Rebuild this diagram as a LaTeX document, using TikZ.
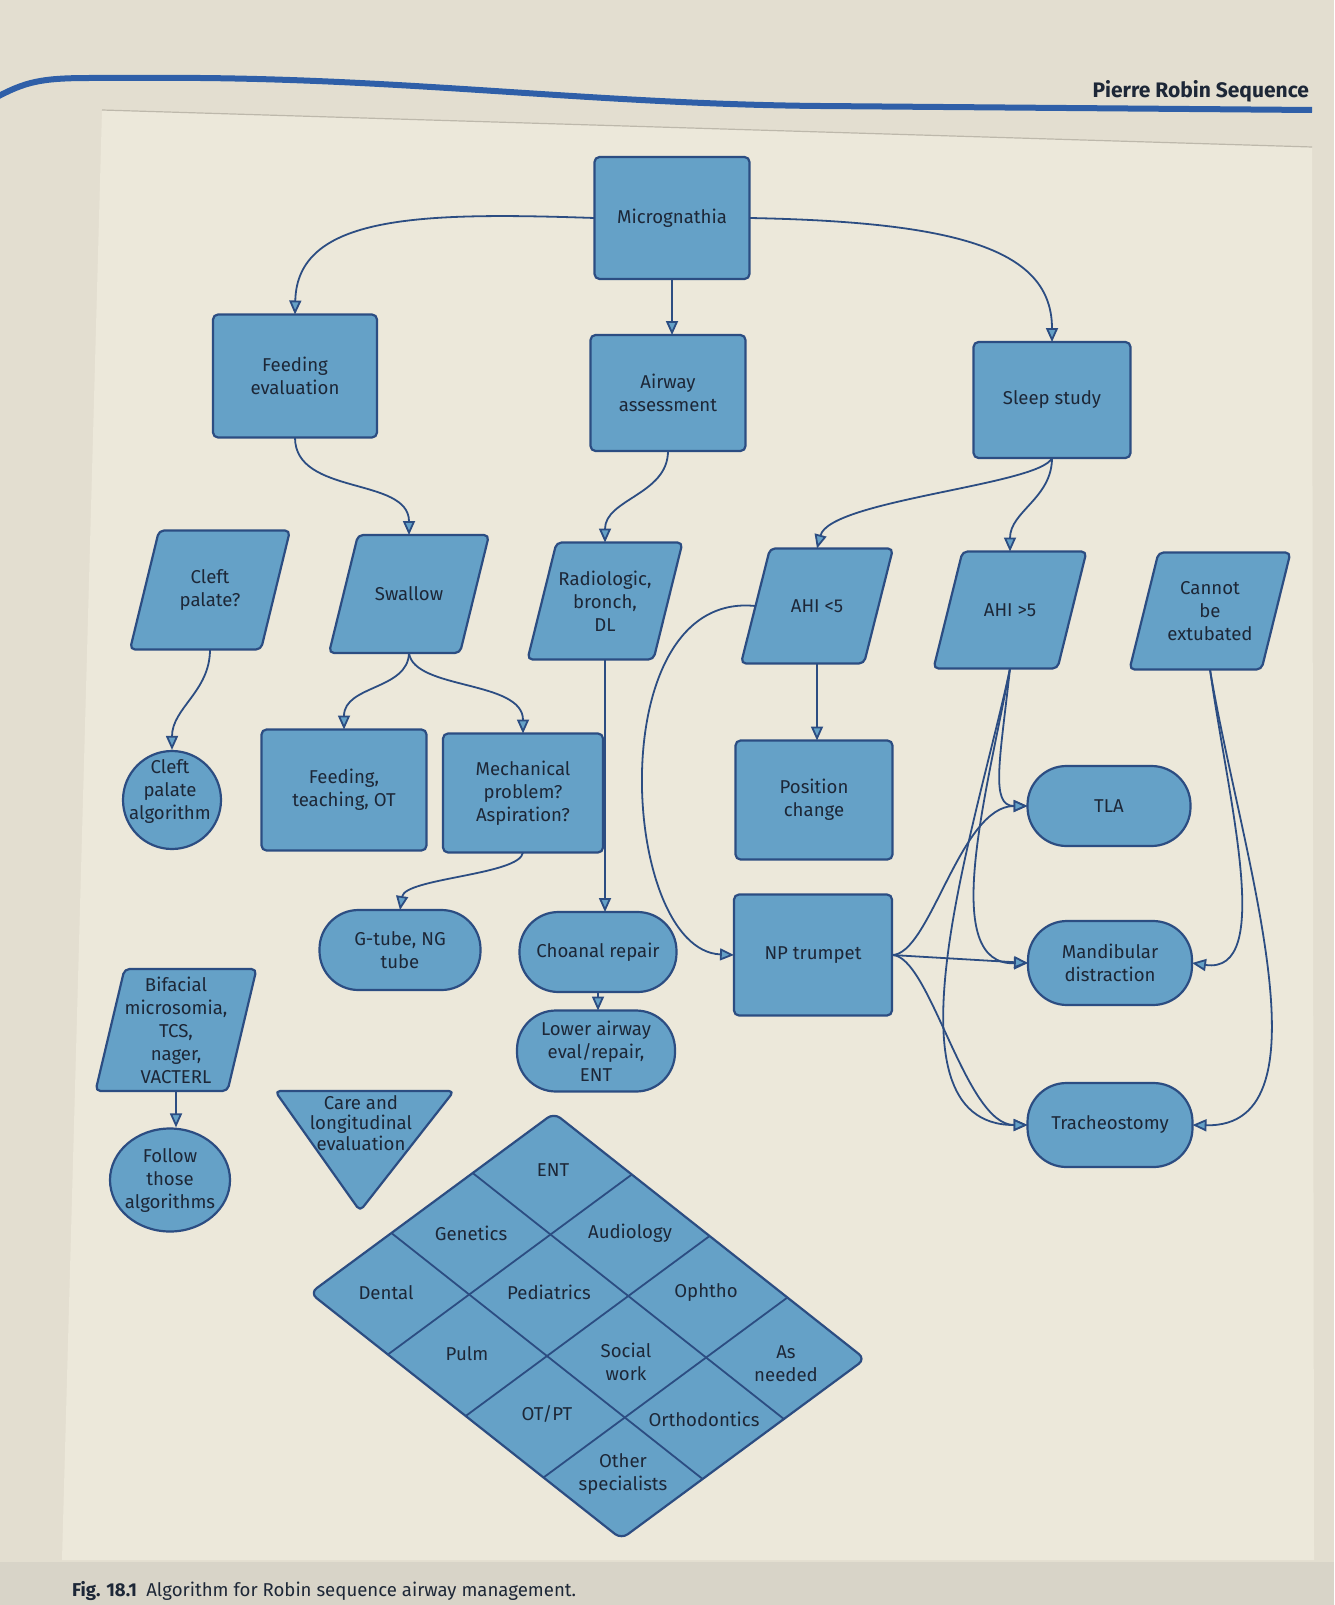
\documentclass[tikz,border=0pt]{standalone}
\usepackage{fontspec}
\setmainfont{Fira Sans}
\usetikzlibrary{arrows.meta,shapes.geometric}
\definecolor{pagebg}{HTML}{E3DED0}
\definecolor{panelbg}{HTML}{ECE8DA}
\definecolor{capbg}{HTML}{D8D4C8}
\definecolor{panelline}{HTML}{BDB8AB}
\definecolor{hdrblue}{HTML}{2F5FA8}
\definecolor{boxfill}{HTML}{65A1C7}
\definecolor{boxline}{HTML}{2C4D82}
\definecolor{txtcol}{HTML}{1D2737}
\tikzset{
  base/.style={text=txtcol, font=\fontsize{9.3}{11.5}\selectfont, align=center, inner sep=0pt, outer sep=0pt},
  sz/.style 2 args={minimum width=#1*0.5pt, minimum height=#2*0.5pt},
  rbox/.style={base, draw=boxline, fill=boxfill, line width=1.1pt, rounded corners=2.5pt},
  stad/.style={base, draw=boxline, fill=boxfill, line width=1.1pt, rounded corners=19.5pt},
  shapefill/.style={draw=boxline, fill=boxfill, line width=1.1pt, rounded corners=2.5pt, line join=round},
  conn/.style={draw=boxline, line width=0.9pt, -{Triangle[length=7pt,width=6pt,fill=boxfill]}},
  plain/.style={draw=boxline, line width=0.9pt},
}
\newcommand{\paranode}[6]{%
  \path[shapefill] ({#2-#4/2-14.5},{#3+#5/2}) -- ({#2+#4/2-14.5},{#3+#5/2}) -- ({#2+#4/2+14.5},{#3-#5/2}) -- ({#2-#4/2+14.5},{#3-#5/2}) -- cycle;
  \node[base, sz={#4}{#5}] (#1) at (#2,#3) {#6};}
\begin{document}
\begin{tikzpicture}[x=0.5pt, y=-0.5pt]
\useasboundingbox (0,0) rectangle (1334,1605);
% page
\fill[pagebg] (0,0) rectangle (1334,1605);
\fill[panelbg] (102,110) -- (1312,147) -- (1314,1560) -- (62,1560) -- cycle;
\draw[panelline, line width=0.6pt] (102,110) -- (1312,147);
\fill[capbg] (0,1562) rectangle (1334,1605);
\draw[hdrblue, line width=3pt] (-5,98) .. controls (25,82) and (40,78) .. (90,78) -- (200,78) .. controls (420,80) and (600,104) .. (820,106) -- (1312,110);
\node[base, font=\fontsize{10.5}{12}\selectfont\bfseries, anchor=east] (hdr) at (1309,91) {Pierre Robin Sequence};
\node[base, anchor=west, font=\fontsize{9.3}{11}\selectfont] (cap) at (72,1591) {\textbf{Fig. 18.1}\enspace Algorithm for Robin sequence airway management.};

% top row
\node[rbox, sz={155}{122}] (micro) at (672,218) {Micrognathia};
\node[rbox, sz={164}{123}] (feed) at (295,376) {Feeding\\evaluation};
\node[rbox, sz={155}{116}] (airway) at (668,393) {Airway\\assessment};
\node[rbox, sz={157}{116}] (sleep) at (1052,400) {Sleep study};

% parallelograms
\paranode{cleft}{210}{590}{131}{119}{Cleft\\palate?}
\paranode{swallow}{409}{594}{131}{118}{Swallow}
\paranode{radio}{605}{601}{126}{117}{Radiologic,\\bronch,\\DL}
\paranode{ahil}{817}{606}{123}{115}{AHI <5}
\paranode{ahig}{1010}{610}{124}{117}{AHI >5}
\paranode{cannot}{1210}{611}{132}{117}{Cannot\\be\\extubated}
\paranode{bif}{176}{1030}{132}{122}{Bifacial\\microsomia,\\TCS,\\nager,\\VACTERL}

% circles
\node[draw=boxline, fill=boxfill, line width=1.1pt, circle, minimum size=49pt, inner sep=0pt] (cpa) at (172,800) {};
\node[base] (cpatxt) at (170,791) {Cleft\\palate\\algorithm};
\node[draw=boxline, fill=boxfill, line width=1.1pt, ellipse, sz={120}{103}, inner sep=0pt] (follow) at (170,1180) {};
\node[base] (followtxt) at (170,1180) {Follow\\those\\algorithms};

% rectangles
\node[rbox, sz={165}{121}] (fto) at (344,790) {Feeding,\\teaching, OT};
\node[rbox, sz={160}{119}] (mech) at (523,793) {Mechanical\\problem?\\Aspiration?};
\node[rbox, sz={157}{119}] (pos) at (814,800) {Position\\change};
\node[rbox, sz={158}{121}] (np) at (813,955) {NP trumpet};

% stadiums
\node[stad, sz={163}{80}] (tla) at (1109,806) {TLA};
\node[stad, sz={161}{80}] (gtube) at (400,950) {G-tube, NG\\tube};
\node[stad, sz={157}{80}] (choanal) at (598,952) {Choanal repair};
\node[stad, sz={164}{84}] (mand) at (1110,963) {Mandibular\\distraction};
\node[stad, sz={158}{81}] (lower) at (596,1051) {Lower airway\\eval/repair,\\ENT};
\node[stad, sz={165}{84}] (trach) at (1110,1125) {Tracheostomy};

% triangle
\path[shapefill] (275,1091) -- (454,1091) -- (360,1211) -- cycle;
\node[base, font=\fontsize{9.3}{10.3}\selectfont] (care) at (361,1123) {Care and\\longitudinal\\evaluation};

% specialist grid
\path[shapefill, rounded corners=4pt] (554,1113) -- (865.2,1359) -- (621.3,1539) -- (310.1,1293) -- cycle;
\draw[plain] (631.8,1174.5) -- (387.9,1354.5);
\draw[plain] (709.6,1236) -- (465.7,1416);
\draw[plain] (787.4,1297.5) -- (543.5,1477.5);
\draw[plain] (472.7,1173) -- (783.9,1419);
\draw[plain] (391.4,1233) -- (702.6,1479);
\node[base] (ent) at (553,1170) {ENT};
\node[base] (audio) at (630,1233) {Audiology};
\node[base] (ophtho) at (706,1293) {Ophtho};
\node[base] (asneeded) at (786,1364) {As\\needed};
\node[base] (genetics) at (471,1233) {Genetics};
\node[base] (peds) at (549,1292) {Pediatrics};
\node[base] (social) at (626,1362) {Social\\work};
\node[base] (ortho) at (704,1419) {Orthodontics};
\node[base] (dental) at (386,1293) {Dental};
\node[base] (pulm) at (467,1354) {Pulm};
\node[base] (otpt) at (547,1414) {OT/PT};
\node[base] (other) at (623,1474) {Other\\specialists};

% connectors
\draw[conn] (micro.west) .. controls (420,212) and (297,215) .. (feed.north);
\draw[conn] (micro.south) -- (micro.south |- airway.north);
\draw[conn] (micro.east) .. controls (960,222) and (1052,250) .. (sleep.north);
\draw[conn] (feed.south) to[out=-90,in=90] (swallow.north);
\draw[conn] (airway.south) to[out=-90,in=90] (radio.north);
\draw[conn] (sleep.south) .. controls (1040,485) and (830,500) .. (ahil.north);
\draw[conn] (sleep.south) to[out=-90,in=90] (ahig.north);
\draw[conn] (cleft.south) to[out=-90,in=90] (cpa.north);
\draw[conn] (swallow.south) .. controls (408,690) and (344,685) .. (fto.north);
\draw[conn] (swallow.south) .. controls (414,690) and (523,680) .. (mech.north);
\draw[conn] (radio.south) -- (radio.south |- choanal.north);
\draw[conn] (mech.south) .. controls (520,875) and (405,878) .. (gtube.north);
\draw[conn] (choanal.south) -- (choanal.south |- lower.north);
\draw[conn] (ahil.south) -- (ahil.south |- pos.north);
\draw[conn] (ahil.west) .. controls (600,590) and (620,950) .. (np.west);
\draw[conn] (ahig.south) .. controls (1000,760) and (990,806) .. (tla.west);
\draw[conn] (ahig.south) .. controls (985,800) and (940,965) .. (mand.west);
\draw[conn] (ahig.south) .. controls (978,820) and (875,1125) .. (trach.west);
\draw[conn] (np.east) .. controls (930,955) and (960,806) .. (tla.west);
\draw[conn] (np.east) -- (mand.west);
\draw[conn] (np.east) .. controls (930,955) and (965,1125) .. (trach.west);
\draw[conn] (cannot.south) .. controls (1228,800) and (1275,975) .. (mand.east);
\draw[conn] (cannot.south) .. controls (1240,850) and (1335,1128) .. (trach.east);
\draw[conn] (bif.south) -- (bif.south |- follow.north);
\end{tikzpicture}
\end{document}
